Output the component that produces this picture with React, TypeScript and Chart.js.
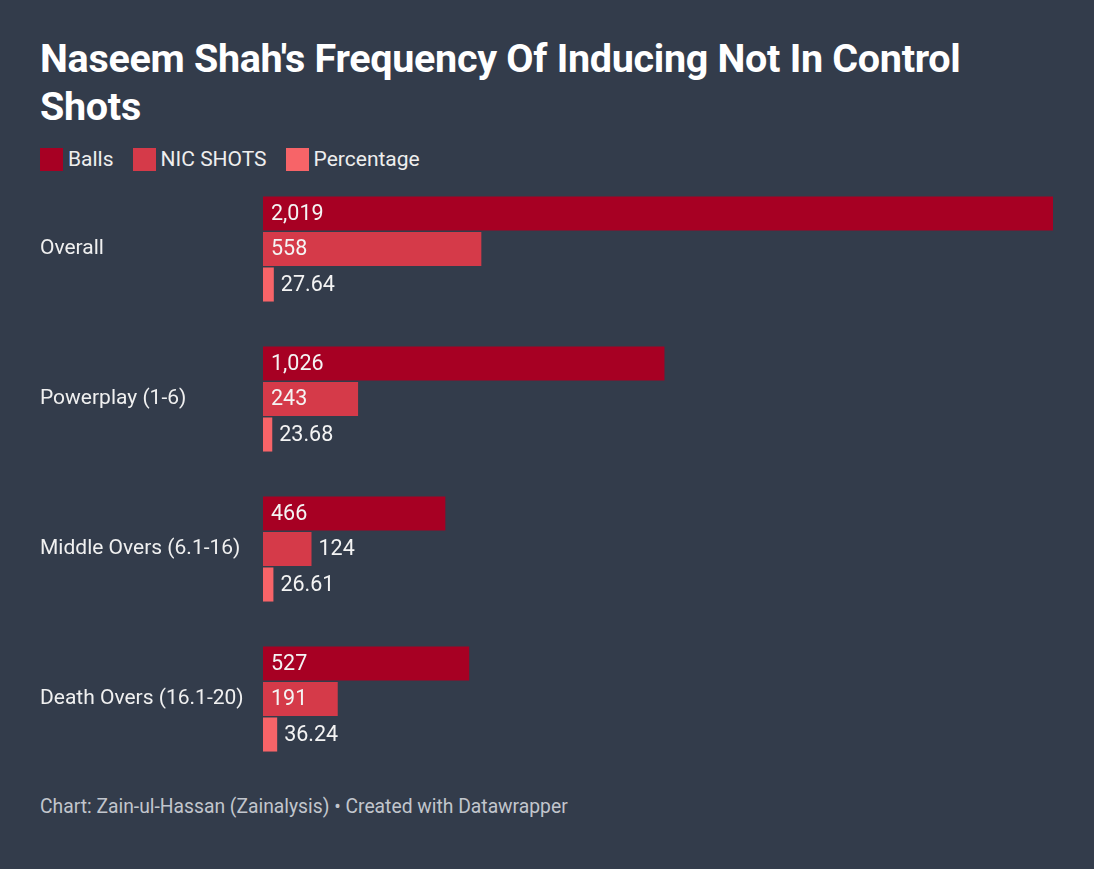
import React, { useEffect, useRef } from 'react';
import { Chart, registerables } from 'chart.js';

Chart.register(...registerables);

const categories = ['Overall', 'Powerplay (1-6)', 'Middle Overs (6.1-16)', 'Death Overs (16.1-20)'];
const balls = [2019, 1026, 466, 527];
const nicShots = [558, 243, 124, 191];
const percentage = [27.64, 23.68, 26.61, 36.24];

const seriesNames = ['Balls', 'NIC SHOTS', 'Percentage'];
const seriesColors = ['#a70023', '#d53a49', '#f76468'];

const BG = '#333c4b';
const FONT = 'Roboto, "Noto Sans", sans-serif';

const fmt = (v: number, i: number) =>
  i === 2 ? v.toFixed(2) : v.toLocaleString('en-US');

// draw value labels inside the bar when they fit, otherwise just past its end
const valueLabels = {
  id: 'valueLabels',
  afterDatasetsDraw(chart: Chart) {
    const ctx = chart.ctx;
    ctx.save();
    ctx.font = `21.5px ${FONT}`;
    ctx.textBaseline = 'middle';
    ctx.textAlign = 'left';
    ctx.fillStyle = '#f4f4f4';
    chart.data.datasets.forEach((ds, di) => {
      const meta = chart.getDatasetMeta(di);
      meta.data.forEach((bar: any, i) => {
        const v = ds.data[i] as number;
        const text = fmt(v, di);
        const w = ctx.measureText(text).width;
        const barW = bar.x - bar.base;
        const x = w + 20 < barW ? bar.base + 8 : bar.x + 7;
        ctx.fillText(text, x, bar.y + 1);
      });
    });
    ctx.restore();
  },
};

const App: React.FC = () => {
  const chartRef = useRef<HTMLCanvasElement>(null);
  const chartInstance = useRef<Chart | null>(null);

  useEffect(() => {
    document.body.style.margin = '0';
    if (!chartRef.current) return;
    if (chartInstance.current) chartInstance.current.destroy();

    chartInstance.current = new Chart(chartRef.current, {
      type: 'bar',
      data: {
        labels: categories,
        datasets: [balls, nicShots, percentage].map((d, i) => ({
          label: seriesNames[i],
          data: d,
          backgroundColor: seriesColors[i],
          borderWidth: 0,
          categoryPercentage: 0.71,
          barPercentage: 0.96,
        })),
      },
      options: {
        indexAxis: 'y',
        animation: false,
        responsive: false,
        maintainAspectRatio: false,
        layout: { padding: { left: 40, right: 41, top: 0, bottom: 0 } },
        scales: {
          x: {
            display: false,
            min: 0,
            max: 2019,
          },
          y: {
            grid: { display: false },
            border: { display: false },
            afterFit: (scale: any) => {
              scale.width = 223;
              scale.paddingTop = 0;
              scale.paddingBottom = 0;
            },
            ticks: {
              crossAlign: 'far',
              color: '#f0f0f0',
              font: { family: FONT, size: 21 },
              padding: 0,
            },
          },
        },
        plugins: {
          legend: { display: false },
          tooltip: { enabled: false },
        },
      },
      plugins: [valueLabels],
    });

    return () => {
      if (chartInstance.current) {
        chartInstance.current.destroy();
        chartInstance.current = null;
      }
    };
  }, []);

  return (
    <div
      style={{
        position: 'relative',
        width: 1094,
        height: 869,
        background: BG,
        fontFamily: FONT,
        overflow: 'hidden',
      }}
    >
      <div
        style={{
          position: 'absolute',
          left: 40,
          top: 35,
          color: '#ffffff',
          fontWeight: 700,
          fontSize: 39.5,
          lineHeight: '48px',
          letterSpacing: '-0.3px',
          whiteSpace: 'nowrap',
        }}
      >
        Naseem Shah's Frequency Of Inducing Not In Control
        <br />
        Shots
      </div>
      <div
        style={{
          position: 'absolute',
          left: 40,
          top: 147,
          display: 'flex',
          alignItems: 'center',
          color: '#eeeeee',
          fontSize: 21,
        }}
      >
        {seriesNames.map((n, i) => (
          <div key={n} style={{ display: 'flex', alignItems: 'center', marginRight: 19 }}>
            <span
              style={{
                display: 'inline-block',
                width: 23,
                height: 23,
                background: seriesColors[i],
                marginRight: 5,
              }}
            />
            <span>{n}</span>
          </div>
        ))}
      </div>
      <div style={{ position: 'absolute', left: 0, top: 174, width: 1094, height: 600 }}>
        <canvas ref={chartRef} width={1094} height={600}></canvas>
      </div>
      <div
        style={{
          position: 'absolute',
          left: 40,
          top: 795,
          color: '#c2c6cd',
          fontSize: 19.3,
        }}
      >
        Chart: Zain-ul-Hassan (Zainalysis) • Created with Datawrapper
      </div>
    </div>
  );
};

export default App;
